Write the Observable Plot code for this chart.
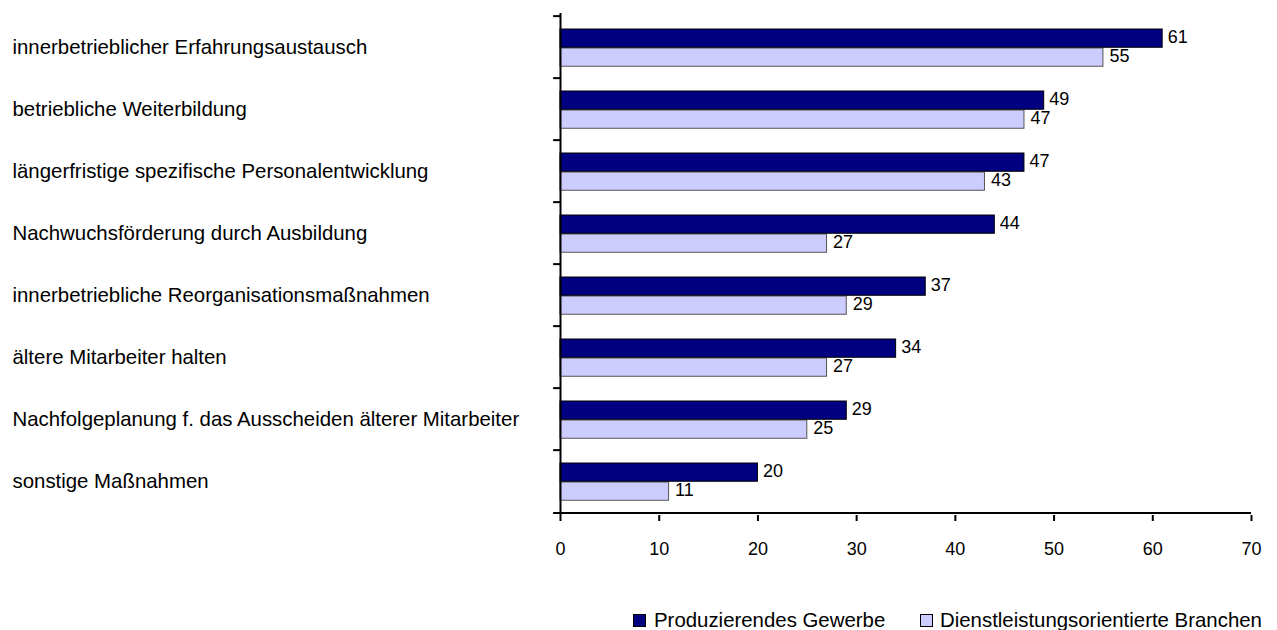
<!DOCTYPE html>
<html>
<head>
<meta charset="utf-8">
<script src="https://cdn.jsdelivr.net/npm/d3@7"></script>
<script src="https://cdn.jsdelivr.net/npm/@observablehq/plot@0.6"></script>
<style>
body { margin: 0; background: #fff; font-family: "Liberation Sans", Arial, sans-serif; position: relative; width: 1277px; height: 630px; overflow: hidden; }
#chart { position: absolute; left: 0; top: 0; }
.sw { position: absolute; width: 13px; height: 13px; box-sizing: border-box; border: 1px solid #000; top: 614px; }
.lt { position: absolute; font-size: 20.4px; line-height: 1; top: 610px; color: #000; white-space: nowrap; }
</style>
</head>
<body>
<div id="chart"></div>
<script>
const categories = [
  "innerbetrieblicher Erfahrungsaustausch",
  "betriebliche Weiterbildung",
  "längerfristige spezifische Personalentwicklung",
  "Nachwuchsförderung durch Ausbildung",
  "innerbetriebliche Reorganisationsmaßnahmen",
  "ältere Mitarbeiter halten",
  "Nachfolgeplanung f. das Ausscheiden älterer Mitarbeiter",
  "sonstige Maßnahmen"
];
const produzierend = [61, 49, 47, 44, 37, 34, 29, 20];
const dienstleistung = [55, 47, 43, 27, 29, 27, 25, 11];
const seriesNames = ["Produzierendes Gewerbe", "Dienstleistungsorientierte Branchen"];
const seriesColors = ["#000080", "#CCCCFF"];
const xTicks = [0, 10, 20, 30, 40, 50, 60, 70];

const dataP = categories.map((c, i) => ({cat: c, v: produzierend[i]}));
const dataD = categories.map((c, i) => ({cat: c, v: dienstleistung[i]}));

const marginTop = 13, marginBottom = 85, height = 600;
const step = (height - marginTop - marginBottom) / categories.length;

const chart = Plot.plot({
  width: 1277,
  height,
  marginTop,
  marginBottom,
  marginLeft: 560,
  marginRight: 26,
  style: {fontFamily: "'Liberation Sans', Arial, sans-serif", fontSize: "18px", color: "#000", overflow: "visible"},
  x: {domain: [0, 70], ticks: xTicks, label: null},
  y: {domain: categories, padding: 0, label: null},
  marks: [
    Plot.barX(dataD, {y: "cat", x: "v", fill: seriesColors[1], stroke: "#555", strokeWidth: 1, insetTop: 32, insetBottom: step - 51}),
    Plot.text(dataD, {y: "cat", x: "v", text: d => String(d.v), textAnchor: "start", dx: 6, dy: 8.5, fill: "#000", fontSize: 18}),
    Plot.barX(dataP, {y: "cat", x: "v", fill: seriesColors[0], stroke: "#000", strokeWidth: 1, insetTop: 13, insetBottom: step - 32}),
    Plot.text(dataP, {y: "cat", x: "v", text: d => String(d.v), textAnchor: "start", dx: 5, dy: -10, fill: "#000", fontSize: 18}),
    // y-axis boundary ticks
    Plot.ruleY(categories, {y: d => d, x1: -0.7, x2: 0, dy: -step / 2, stroke: "#000", strokeWidth: 2, clip: false}),
    Plot.ruleY(categories.slice(-1), {y: d => d, x1: -0.7, x2: 70, dy: step / 2, stroke: "#000", strokeWidth: 2, clip: false}),
    Plot.ruleX([0], {stroke: "#000", strokeWidth: 2}),
    Plot.axisX({ticks: xTicks, tickSize: 6, tickPadding: 21, tickFormat: d => String(d), stroke: "#000", strokeWidth: 2, strokeOpacity: 1, fontSize: 18, label: null}),
    Plot.axisY({tickSize: 0, tickPadding: 0, textAnchor: "start", dx: -548, fontSize: 20.4, label: null})
  ]
});
document.getElementById("chart").appendChild(chart);

const legendPos = [{sq: 633, tx: 654}, {sq: 920, tx: 940}];
seriesNames.forEach((n, i) => {
  const sw = document.createElement("div");
  sw.className = "sw";
  sw.style.background = seriesColors[i];
  sw.style.left = legendPos[i].sq + "px";
  document.body.appendChild(sw);
  const t = document.createElement("div");
  t.className = "lt";
  t.style.left = legendPos[i].tx + "px";
  t.textContent = n;
  document.body.appendChild(t);
});
</script>
</body>
</html>
